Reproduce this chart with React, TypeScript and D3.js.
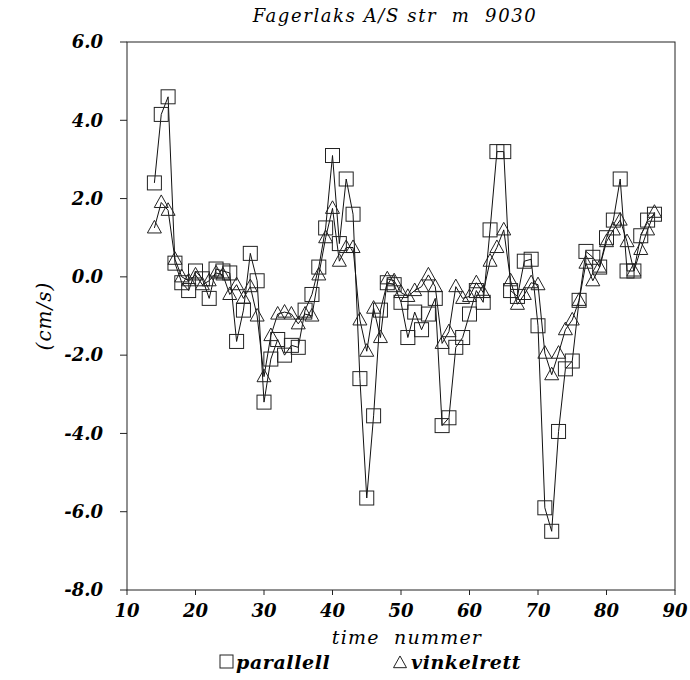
import React from "react";
import * as d3 from "d3";

const timeNummer = [
  14, 15, 16, 17, 18, 19, 20, 21, 22, 23, 24, 25, 26, 27, 28, 29, 30, 31, 32, 33,
  34, 35, 36, 37, 38, 39, 40, 41, 42, 43, 44, 45, 46, 47, 48, 49, 50, 51, 52, 53,
  54, 55, 56, 57, 58, 59, 60, 61, 62, 63, 64, 65, 66, 67, 68, 69, 70, 71, 72, 73,
  74, 75, 76, 77, 78, 79, 80, 81, 82, 83, 84, 85, 86, 87,
];

const parallell = [
  2.4, 4.15, 4.6, 0.35, -0.15, -0.35, 0.15, -0.05, -0.55, 0.2,
  0.15, 0.1, -1.65, -0.85, 0.6, -0.1, -3.2, -2.1, -1.6, -2.0,
  -1.75, -1.8, -0.85, -0.45, 0.25, 1.25, 3.1, 0.85, 2.5, 1.6,
  -2.6, -5.65, -3.55, -0.85, -0.15, -0.2, -0.65, -1.55, -0.9, -1.35,
  -0.95, -0.55, -3.8, -3.6, -1.8, -1.55, -0.95, -0.35, -0.65, 1.2,
  3.2, 3.2, -0.35, -0.5, 0.4, 0.45, -1.25, -5.9, -6.5, -3.95,
  -2.35, -2.15, -0.6, 0.65, 0.5, 0.25, 1.0, 1.45, 2.5, 0.15,
  0.15, 1.05, 1.45, 1.6,
];

const vinkelrett = [
  1.25, 1.9, 1.7, 0.45, 0.0, -0.1, 0.05, -0.2, -0.1, 0.1,
  0.05, -0.45, -0.2, -0.55, -0.25, -1.0, -2.55, -1.5, -0.95, -0.9,
  -0.95, -1.2, -0.95, -1.0, 0.05, 1.0, 1.75, 0.4, 0.75, 0.75,
  -1.1, -1.9, -0.8, -1.55, -0.05, -0.1, -0.4, -0.5, -0.35, -0.25,
  0.05, -0.25, -1.7, -1.4, -0.25, -0.55, -0.5, -0.15, -0.4, 0.4,
  0.75, 1.2, -0.1, -0.7, -0.45, -0.15, -0.2, -1.95, -2.5, -1.95,
  -1.35, -1.1, -0.6, 0.35, -0.1, 0.25, 0.9, 1.2, 1.45, 0.9,
  0.15, 0.7, 1.2, 1.65,
];

const xTicks = [10, 20, 30, 40, 50, 60, 70, 80, 90];
const yTicks = [6, 4, 2, 0, -2, -4, -6, -8];

const W = 690;
const H = 680;
const left = 127;
const right = 675;
const top = 42;
const bottom = 590;

const FONT = "'DejaVu Serif', 'Liberation Serif', serif";

export default function App() {
  const x = d3.scaleLinear().domain([10, 90]).range([left, right]);
  const y = d3.scaleLinear().domain([-8, 6]).range([bottom, top]);

  const line = d3
    .line<[number, number]>()
    .x((d) => x(d[0]))
    .y((d) => y(d[1]));

  const pData: [number, number][] = timeNummer.map((t, i) => [t, parallell[i]]);
  const vData: [number, number][] = timeNummer.map((t, i) => [t, vinkelrett[i]]);

  const sq = 14;
  const tri = (cx: number, cy: number, s = 14) => {
    const h = s * 0.9;
    return `M${cx},${cy - h * 0.6}L${cx + s / 2},${cy + h * 0.4}L${cx - s / 2},${cy + h * 0.4}Z`;
  };

  return (
    <svg
      width={W}
      height={H}
      style={{ position: "absolute", left: 0, top: 0, background: "#fff" }}
    >
      <text
        x={(left + right) / 2 - 6}
        y={22}
        textAnchor="middle"
        fontFamily={FONT}
        fontStyle="italic"
        fontSize={18}
        style={{ whiteSpace: "pre" }}
        letterSpacing={1.6}
      >
        {"Fagerlaks A/S str  m  9030"}
      </text>

      {/* frame */}
      <rect
        x={left}
        y={top}
        width={right - left}
        height={bottom - top}
        fill="none"
        stroke="#222"
        strokeWidth={1}
      />

      {/* y ticks */}
      {yTicks.map((v) => (
        <g key={"y" + v}>
          <line x1={left - 7} x2={left} y1={y(v)} y2={y(v)} stroke="#222" />
          <text
            x={103}
            y={y(v)}
            dy="0.35em"
            textAnchor="end"
            fontFamily={FONT}
            fontStyle="italic"
            fontWeight="bold"
            fontSize={18}
          >
            {v.toFixed(1)}
          </text>
        </g>
      ))}

      {/* x ticks */}
      {xTicks.map((t) => (
        <g key={"x" + t}>
          <line x1={x(t)} x2={x(t)} y1={bottom} y2={bottom + 5} stroke="#222" />
          <text
            x={x(t)}
            y={611}
            dy="0.35em"
            textAnchor="middle"
            fontFamily={FONT}
            fontStyle="italic"
            fontWeight="bold"
            fontSize={18}
          >
            {t}
          </text>
        </g>
      ))}

      <text
        x={(left + right) / 2 + 6}
        y={637}
        dy="0.35em"
        textAnchor="middle"
        fontFamily={FONT}
        fontStyle="italic"
        fontSize={19}
        style={{ whiteSpace: "pre" }}
        letterSpacing={1.2}
      >
        {"time  nummer"}
      </text>

      <text
        transform={`translate(44,${(top + bottom) / 2}) rotate(-90)`}
        textAnchor="middle"
        dy="0.35em"
        fontFamily={FONT}
        fontStyle="italic"
        fontSize={20}
        letterSpacing={1}
      >
        (cm/s)
      </text>

      {/* lines */}
      <path d={line(pData) || ""} fill="none" stroke="#111" strokeWidth={1} />
      <path d={line(vData) || ""} fill="none" stroke="#111" strokeWidth={1} />

      {/* markers */}
      {pData.map((d, i) => (
        <rect
          key={"p" + i}
          x={x(d[0]) - sq / 2}
          y={y(d[1]) - sq / 2}
          width={sq}
          height={sq}
          fill="none"
          stroke="#222"
          strokeWidth={1}
        />
      ))}
      {vData.map((d, i) => (
        <path
          key={"v" + i}
          d={tri(x(d[0]), y(d[1]))}
          fill="none"
          stroke="#222"
          strokeWidth={1}
        />
      ))}

      {/* legend */}
      <rect x={220} y={655} width={13} height={13} fill="none" stroke="#222" />
      <text
        x={236}
        y={662}
        dy="0.35em"
        fontFamily={FONT}
        fontStyle="italic"
        fontWeight="bold"
        fontSize={19}
        letterSpacing={0.6}
      >
        parallell
      </text>
      <path d={tri(400, 663, 13)} fill="none" stroke="#222" />
      <text
        x={411}
        y={662}
        dy="0.35em"
        fontFamily={FONT}
        fontStyle="italic"
        fontWeight="bold"
        fontSize={19}
        letterSpacing={0.6}
      >
        vinkelrett
      </text>
    </svg>
  );
}
